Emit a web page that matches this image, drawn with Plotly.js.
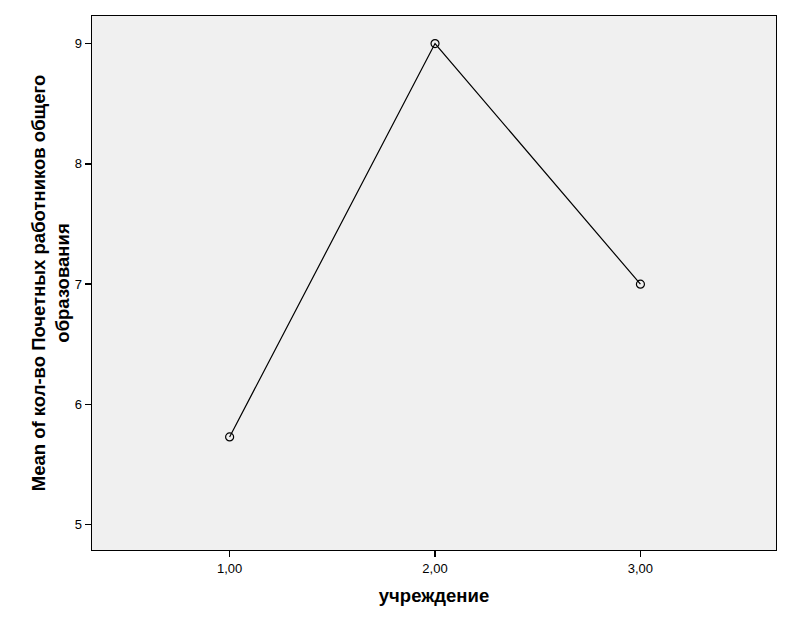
<!DOCTYPE html>
<html><head><meta charset="utf-8">
<script src="https://cdn.plot.ly/plotly-3.0.1.min.js"></script>
<style>body{margin:0;background:#fff}#chart{width:791px;height:632px}</style>
</head><body><div id="chart"></div>
<script>
const categories = [1, 2, 3];
const categoryLabels = ["1,00", "2,00", "3,00"];
const meanValues = [5.73, 9.0, 7.0];
const yTicks = [5, 6, 7, 8, 9];

const trace = {
  x: categories, y: meanValues, type: 'scatter', mode: 'lines+markers',
  line: {color: '#000', width: 1.2},
  marker: {symbol: 'circle-open', size: 8, color: '#000', line: {width: 1.2, color: '#000'}},
  hoverinfo: 'skip'
};
const layout = {
  width: 791, height: 632,
  margin: {l: 92, r: 15, t: 16, b: 82},
  paper_bgcolor: '#fff', plot_bgcolor: '#f0f0f0',
  font: {family: 'Liberation Sans, Arial, sans-serif', color: '#000', size: 13},
  showlegend: false,
  xaxis: {
    range: [0.33, 3.66], tickvals: categories, ticktext: categoryLabels,
    showgrid: false, zeroline: false, showline: true, mirror: true, linecolor: '#000', linewidth: 1.3,
    ticks: 'outside', ticklen: 6, tickcolor: '#000', tickwidth: 1.3,
    tickfont: {size: 13},
    title: {text: 'учреждение', font: {size: 18.5, family: 'Liberation Sans, Arial, sans-serif', weight: 'bold'}, standoff: 14}
  },
  yaxis: {
    range: [4.79, 9.229], tickvals: yTicks,
    showgrid: false, zeroline: false, showline: true, mirror: true, linecolor: '#000', linewidth: 1.3,
    ticks: 'outside', ticklen: 6, tickcolor: '#000', tickwidth: 1.3,
    tickfont: {size: 13},
    title: {text: 'Mean of кол-во Почетных работников общего<br>образования', font: {size: 18.5, family: 'Liberation Sans, Arial, sans-serif', weight: 'bold'}, standoff: 0}
  }
};
Plotly.newPlot('chart', [trace], layout, {staticPlot: true});
</script></body></html>
